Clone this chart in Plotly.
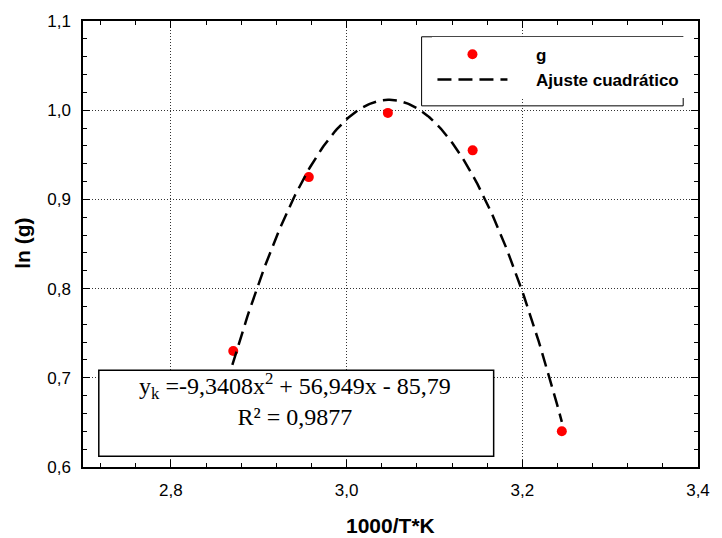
import numpy as np
import plotly.graph_objects as go

# Data
x_vals = [2.871, 2.957, 3.047, 3.1435, 3.245]
y_vals = [0.730, 0.925, 0.997, 0.955, 0.640]
series_name = "g"
fit_name = "Ajuste cuadrático"
# Quadratic fit coefficients shown on the chart
coef_a, coef_b, coef_c = -9.3408, 56.949, -85.79
fit_x_range = [2.87, 3.245]
x_tick_labels = ["2,8", "3,0", "3,2", "3,4"]
y_tick_labels = ["0,6", "0,7", "0,8", "0,9", "1,0", "1,1"]
eq_text = "y<sub>k</sub> =-9,3408x<sup>2</sup> + 56,949x - 85,79<br>R² = 0,9877"
x_title = "1000/T*K"
y_title = "ln (g)"

fx = np.linspace(fit_x_range[0], fit_x_range[1], 200)
fy = coef_a * fx**2 + coef_b * fx + coef_c

L, R, T, B = 83, 16, 15, 71
W, H = 722, 538
pw, ph = W - L - R, H - T - B

def px(xp):
    return (xp - L) / pw

def py(yp):
    return (H - B - yp) / ph

pad = "\u00a0" * 5

fig = go.Figure()
fig.add_trace(go.Scatter(x=x_vals, y=y_vals, mode="markers", name=pad + series_name,
                         marker=dict(color="#ff0000", size=10)))
fig.add_trace(go.Scatter(x=fx, y=fy, mode="lines", name=pad + fit_name,
                         line=dict(color="black", width=2.5, dash="14px,7px")))

sans = "Liberation Sans, Arial, sans-serif"
serif = "Liberation Serif, Times New Roman, serif"

axis_common = dict(
    showline=True, linecolor="black", linewidth=1.5, mirror="ticks",
    ticks="inside", ticklen=7, tickcolor="black", tickwidth=1,
    showgrid=True, gridcolor="#333333", griddash="1px,2px", gridwidth=1,
    zeroline=False, tickfont=dict(family=sans, size=17, color="black"),
)

fig.update_xaxes(range=[2.7, 3.4], tickvals=[2.8, 3.0, 3.2, 3.4], ticktext=x_tick_labels,
                 minor=dict(dtick=0.04, tick0=0, ticks="inside", ticklen=4, tickcolor="black", showgrid=False),
                 ticklabelstandoff=7, **axis_common)
fig.update_yaxes(range=[0.6, 1.1], tickvals=[0.6, 0.7, 0.8, 0.9, 1.0, 1.1], ticktext=y_tick_labels,
                 minor=dict(dtick=0.02, tick0=0, ticks="inside", ticklen=4, tickcolor="black", showgrid=False),
                 ticklabelstandoff=7, **axis_common)

shapes = [
    dict(type="rect", xref="paper", yref="paper", x0=px(426), x1=px(691), y0=py(101), y1=py(31),
         line=dict(color="black", width=1), fillcolor="white", layer="below"),
    dict(type="rect", xref="paper", yref="paper", x0=px(99), x1=px(499), y0=py(456), y1=py(369),
         line=dict(color="black", width=1.5), fillcolor="white", layer="above"),
]

annotations = [
    dict(text=eq_text, xref="paper", yref="paper", x=px(298), y=py(399), showarrow=False,
         xanchor="center", yanchor="middle", align="center",
         font=dict(family=serif, size=24, color="black")),
    dict(text="<b>" + x_title + "</b>", xref="paper", yref="paper", x=px(394), y=py(526), showarrow=False,
         xanchor="center", yanchor="middle", font=dict(family=sans, size=21, color="black")),
    dict(text="<b>" + y_title + "</b>", xref="paper", yref="paper", x=px(21), y=py(240), showarrow=False,
         xanchor="center", yanchor="middle", textangle=-90, font=dict(family=sans, size=21, color="black")),
]

fig.update_layout(
    width=W, height=H, margin=dict(l=L, r=R, t=T, b=B),
    paper_bgcolor="white", plot_bgcolor="white",
    separators=",.",
    shapes=shapes, annotations=annotations,
    showlegend=True,
    legend=dict(x=px(437), y=py(31), xanchor="left", yanchor="top",
                bgcolor="white", borderwidth=0, itemwidth=70,
                font=dict(family=sans, size=17, color="black", weight="bold"),
                tracegroupgap=0),
)

fig.write_html("out.html")
